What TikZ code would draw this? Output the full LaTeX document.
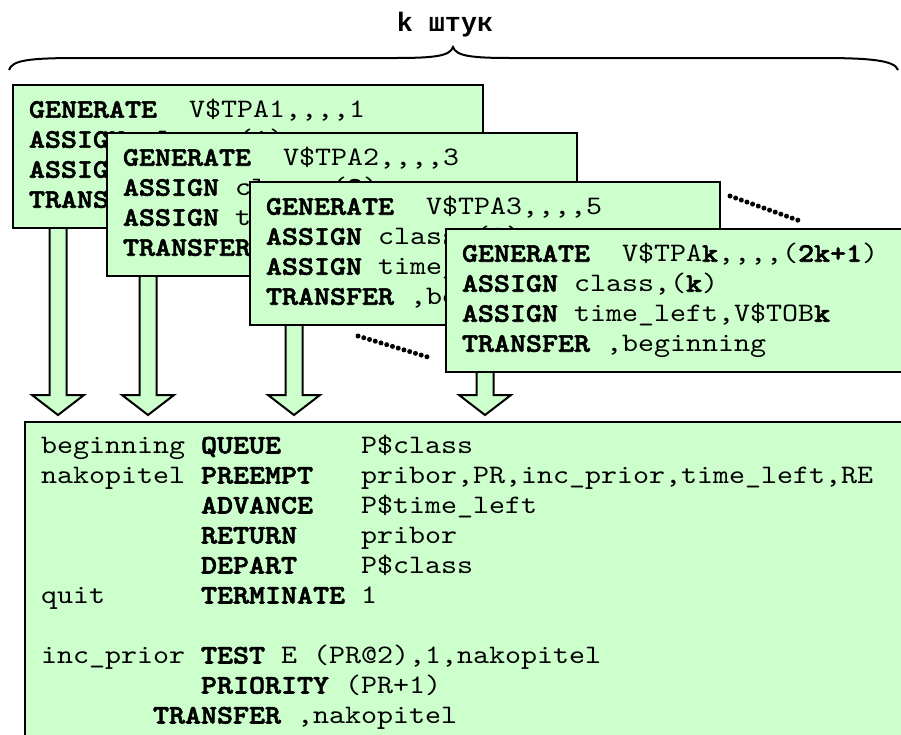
\documentclass[tikz,border=0pt]{standalone}
\usepackage{fontspec}
\setmonofont{lmmono10-regular.otf}[BoldFont=lmmonolt10-bold.otf,
  FakeStretch=1.143,BoldFeatures={FakeBold=2.2}]
\newfontfamily\cyrmono{Liberation Mono}
\usepackage{tikz}
\usetikzlibrary{calc}
\definecolor{boxgreen}{HTML}{CCFFCC}

% n blank columns of the current mono font
\newcommand{\bk}[1][1]{\hspace*{#1\fontcharwd\font`x}}
% block arrow from a box bottom (#1) down to the level of (#2)
\newcommand{\fatarrow}[2]{%
  \fill[boxgreen] let \p1=(#1), \p2=(#2) in
    (\x1-8.5pt,\y1) -- (\x1-8.5pt,\y2+20pt) -- (\x1-26pt,\y2+20pt) -- (\x1,\y2)
    -- (\x1+26pt,\y2+20pt) -- (\x1+8.5pt,\y2+20pt) -- (\x1+8.5pt,\y1) -- cycle;
  \draw[fatarr] let \p1=(#1), \p2=(#2) in
    (\x1-8.5pt,\y1) -- (\x1-8.5pt,\y2+20pt) -- (\x1-26pt,\y2+20pt) -- (\x1,\y2)
    -- (\x1+26pt,\y2+20pt) -- (\x1+8.5pt,\y2+20pt) -- (\x1+8.5pt,\y1);
}

\begin{document}
\begin{tikzpicture}[
  x=1pt,y=-1pt,
  font=\ttfamily\fontsize{26.67}{30}\selectfont,
  gpssbox/.style={draw=black,line width=2pt,fill=boxgreen,anchor=north west,
    minimum width=470,minimum height=143,text width=438,inner xsep=16,align=left},
  progbox/.style={draw=black,line width=2pt,fill=boxgreen,anchor=north west,
    text width=900,inner xsep=16,inner ysep=13,align=left},
  fatarr/.style={draw=black,line width=2pt,line join=miter},
  dotrow/.style={line width=5pt,line cap=round,dash pattern=on 0pt off 6pt}
]
\useasboundingbox (0,0) rectangle (901,734);
\clip (0,0) rectangle (901,734);

\node[gpssbox] (g1) at (12,84) {\textbf{GENERATE}\bk[2]V\$TPA1,,,,1\\
  \textbf{ASSIGN}\bk class,(\textbf{1})\\
  \textbf{ASSIGN}\bk time\_left,V\$TOB1\\
  \textbf{TRANSFER}\bk,beginning};
\node[progbox] (prog) at (24,421) {beginning\bk\textbf{QUEUE}\bk[5]P\$class\\
  nakopitel\bk\textbf{PREEMPT}\bk[3]pribor,PR,inc\_prior,time\_left,RE\\
  \bk[10]\textbf{ADVANCE}\bk[3]P\$time\_left\\
  \bk[10]\textbf{RETURN}\bk[4]pribor\\
  \bk[10]\textbf{DEPART}\bk[4]P\$class\\
  quit\bk[6]\textbf{TERMINATE}\bk 1\\
  \mbox{}\\
  inc\_prior\bk\textbf{TEST}\bk E\bk(PR@2),1,nakopitel\\
  \bk[10]\textbf{PRIORITY}\bk(PR+1)\\
  \bk[7]\textbf{TRANSFER}\bk,nakopitel};
\coordinate (tip) at ($(prog.north west)+(0,-6)$);
\fatarrow{$(g1.south west)+(46,0)$}{tip}

\node[gpssbox] (g2) at (106,132) {\textbf{GENERATE}\bk[2]V\$TPA2,,,,3\\
  \textbf{ASSIGN}\bk class,(\textbf{2})\\
  \textbf{ASSIGN}\bk time\_left,V\$TOB2\\
  \textbf{TRANSFER}\bk,beginning};
\fatarrow{$(g2.south west)+(42,0)$}{tip}

\node[gpssbox] (g3) at (249,181) {\textbf{GENERATE}\bk[2]V\$TPA3,,,,5\\
  \textbf{ASSIGN}\bk class,(\textbf{3})\\
  \textbf{ASSIGN}\bk time\_left,V\$TOB3\\
  \textbf{TRANSFER}\bk,beginning};
\fatarrow{$(g3.south west)+(45,0)$}{tip}

\node[gpssbox] (g4) at (445,228) {\textbf{GENERATE}\bk[2]V\$TPA\textbf{k},,,,(\textbf{2k+1})\\
  \textbf{ASSIGN}\bk class,(\textbf{k})\\
  \textbf{ASSIGN}\bk time\_left,V\$TOB\textbf{k}\\
  \textbf{TRANSFER}\bk,beginning};
\fatarrow{$(g4.south west)+(40,0)$}{tip}

% dotted "and so on" marks
\draw[dotrow] ($(g3.north east)+(9,15)$) -- ($(g4.north west)+(358,-6)$);
\draw[dotrow] ($(g3.south west)+(109,10)$) -- ($(g4.south west)+(-14,-15)$);

% brace over all k generators
\draw[line width=2pt] (9,70) .. controls (12,60) and (30,58) .. (80,58) -- (395,58)
  .. controls (435,58) and (450,56) .. (453,47)
  .. controls (456,56) and (471,58) .. (511,58) -- (820,58)
  .. controls (868,58) and (895,60) .. (898,70);
\node[font=\cyrmono\bfseries\fontsize{26.67}{30}\selectfont] (kcount) at (445,25) {k штук};
\end{tikzpicture}
\end{document}
